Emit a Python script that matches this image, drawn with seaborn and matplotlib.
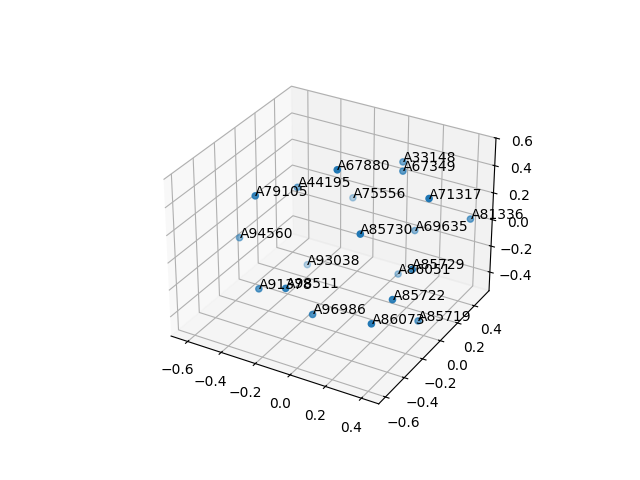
import matplotlib
matplotlib.use("Agg")
import matplotlib.pyplot as plt
import seaborn as sns

labels = ["A33148","A67349","A67880","A44195","A79105","A75556","A71317","A81336","A85730","A69635",
          "A94560","A93038","A85729","A86051","A91378","A98511","A85722","A96986","A86073","A85719"]
xs = [0.04,0.087,-0.098,-0.399,-0.461,-0.238,0.335,0.425,0.081,0.141,
      -0.617,-0.366,0.313,0.091,-0.389,-0.207,0.275,-0.094,0.234,0.337]
ys = [0.444,0.352,-0.009,0.112,-0.207,0.418,0.155,0.462,-0.095,0.396,
      -0.118,0.151,0.029,0.312,-0.31,-0.349,-0.11,-0.275,-0.257,0.061]
zs = [0.35,0.35,0.50,0.20,0.30,0.0,0.35,0.05,0.15,-0.10,
      -0.12,-0.40,-0.10,-0.40,-0.30,-0.20,-0.25,-0.40,-0.35,-0.50]

color = sns.color_palette("tab10")[0]
fig = plt.figure(figsize=(6.4, 4.8), dpi=100)
ax = fig.add_subplot(projection="3d")
ax.scatter(xs, ys, zs, color=color)
for x, y, z, t in zip(xs, ys, zs, labels):
    ax.text(x, y, z, t)
ax.set_xlim(-0.70, 0.495)
ax.set_ylim(-0.67, 0.58)
ax.set_zlim(-0.545, 0.60)
fig.savefig("out.png", dpi=100)
